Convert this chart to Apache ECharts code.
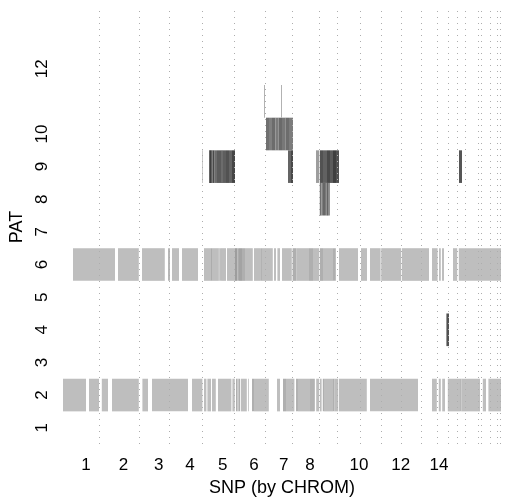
<!DOCTYPE html>
<html>
<head>
<meta charset="utf-8">
<script src="https://cdn.jsdelivr.net/npm/echarts@6/dist/echarts.min.js"></script>
<style>
  html, body { margin: 0; padding: 0; background: #fff; }
  #chart { width: 511px; height: 503px; }
</style>
</head>
<body>
<div id="chart"></div>
<script>
// SNP index space: SNPs ordered by chromosome, 0 .. N_SNP
const N_SNP = 2190;

// cumulative SNP index where each chromosome ends (dotted separators)
const CHROM_BREAKS = [180, 380, 530, 695, 855, 1010, 1146, 1282, 1372, 1484, 1589,
                      1690, 1789, 1869, 1927, 1972, 2010, 2077, 2092, 2134, 2170, 2185];

// chromosome label positions and texts shown on the SNP axis
const CHROM_LABEL_POS = [115, 302, 479, 635, 799, 955, 1104, 1235, 1480, 1689, 1880];
const CHROM_LABELS = ['1', '2', '3', '4', '5', '6', '7', '8', '10', '12', '14'];

// patient rows labelled on the PAT axis
const PAT_TICKS = [1, 2, 3, 4, 5, 6, 7, 8, 9, 10, 12];

// runs per patient: [startSNP, endSNP, score]  (score 0 = light, 1 = dark)
const pat2 = [
  [0, 115, 0], [130, 180, 0], [194, 225, 0], [245, 379, 0], [397, 425, 0],
  [445, 625, 0], [645, 697, 0], [705, 717, 0], [722, 740, 0], [745, 764, 0],
  [775, 842, 0], [847, 859, 0], [865, 872, 0.1], [872, 878, 0], [878, 885, 0.1],
  [889, 919, 0], [925, 929, 0], [945, 955, 0.1], [955, 1029, 0], [1070, 1085, 0],
  [1100, 1115, 0.1], [1115, 1157, 0], [1165, 1175, 0.08], [1175, 1235, 0],
  [1235, 1255, 0.08], [1255, 1260, 0], [1266, 1280, 0], [1284, 1293, 0],
  [1299, 1305, 0.1], [1305, 1350, 0], [1350, 1358, 0.1], [1358, 1376, 0],
  [1380, 1519, 0], [1535, 1775, 0], [1845, 1869, 0], [1879, 1889, 0],
  [1896, 1910, 0], [1924, 1985, 0], [1985, 1992, 0.05], [1992, 2085, 0],
  [2099, 2115, 0], [2127, 2190, 0]
];
const pat4 = [
  [1917, 1930, 0.72]
];
const pat6 = [
  [50, 260, 0], [275, 379, 0], [395, 509, 0], [525, 535, 0.05], [545, 580, 0],
  [595, 675, 0], [705, 740, 0], [740, 745, 0.12], [745, 778, 0], [778, 782, 0.12],
  [782, 790, 0], [790, 794, 0.12], [794, 815, 0], [820, 860, 0], [860, 872, 0.22],
  [872, 880, 0.12], [880, 895, 0.18], [895, 910, 0.1], [910, 949, 0],
  [955, 986, 0], [986, 995, 0.08], [995, 1049, 0], [1055, 1065, 0], [1072, 1085, 0],
  [1095, 1144, 0], [1148, 1168, 0.1], [1168, 1230, 0], [1230, 1250, 0.1],
  [1250, 1280, 0], [1284, 1300, 0.1], [1300, 1350, 0], [1350, 1360, 0.1],
  [1360, 1365, 0], [1380, 1475, 0], [1490, 1520, 0], [1535, 1588, 0],
  [1591, 1690, 0], [1694, 1830, 0], [1845, 1873, 0], [1880, 1889, 0],
  [1895, 1905, 0], [1950, 1971, 0], [1979, 2190, 0]
];
const pat8 = [
  [1284, 1292, 0.52], [1292, 1300, 0.42], [1300, 1310, 0.58], [1310, 1318, 0.46],
  [1318, 1326, 0.6], [1326, 1334, 0.48]
];
const pat9 = [
  [695, 699, 0], [731, 740, 0.85], [740, 748, 0.62], [748, 758, 0.78], [758, 770, 0.55],
  [770, 790, 0.66], [790, 800, 0.55], [800, 815, 0.64], [815, 830, 0.72],
  [830, 845, 0.6], [845, 860, 0.8], [1125, 1140, 0.6], [1140, 1150, 0.78],
  [1265, 1280, 0.22], [1284, 1300, 0.72], [1300, 1320, 0.62], [1320, 1335, 0.78],
  [1335, 1350, 0.66], [1350, 1365, 0.85], [1365, 1380, 0.72], [1980, 1995, 0.7]
];
const pat10 = [
  [1015, 1030, 0.52], [1030, 1045, 0.42], [1045, 1062, 0.55], [1062, 1078, 0.45],
  [1078, 1095, 0.56], [1095, 1112, 0.47], [1112, 1130, 0.54], [1130, 1150, 0.44]
];
const pat11 = [
  [1005, 1010, 0.08], [1090, 1095, 0.08]
];

const patientRuns = { 2: pat2, 4: pat4, 6: pat6, 8: pat8, 9: pat9, 10: pat10, 11: pat11 };

const cells = [];
Object.keys(patientRuns).forEach(function (p) {
  patientRuns[p].forEach(function (r) {
    cells.push([r[0], r[1], Number(p), r[2]]);
  });
});

function shade(score) {
  const g = Math.round(190 - score * 150);
  return 'rgb(' + g + ',' + g + ',' + g + ')';
}

const labelOf = {};
CHROM_LABEL_POS.forEach(function (v, i) { labelOf[v] = CHROM_LABELS[i]; });

const FONT = '"Liberation Sans", Arial, Helvetica, sans-serif';

const chart = echarts.init(document.getElementById('chart'), null, { renderer: 'canvas' });
chart.setOption({
  animation: false,
  backgroundColor: '#ffffff',
  grid: { left: 63, right: 10, top: 10, bottom: 59 },
  xAxis: {
    type: 'value',
    min: 0,
    max: N_SNP,
    name: 'SNP (by CHROM)',
    nameLocation: 'middle',
    nameGap: 33,
    nameTextStyle: { fontFamily: FONT, fontSize: 18, color: '#000' },
    axisLine: { show: false },
    axisTick: { show: false },
    splitLine: { show: false },
    axisLabel: {
      customValues: CHROM_LABEL_POS,
      formatter: function (v) { return labelOf[v] !== undefined ? labelOf[v] : ''; },
      margin: 13,
      fontFamily: FONT,
      fontSize: 17,
      color: '#000'
    }
  },
  yAxis: {
    type: 'value',
    min: 0.5,
    max: 13.8,
    name: 'PAT',
    nameLocation: 'middle',
    nameGap: 31,
    nameRotate: 90,
    nameTextStyle: { fontFamily: FONT, fontSize: 18, color: '#000' },
    axisLine: { show: false },
    axisTick: { show: false },
    splitLine: { show: false },
    axisLabel: {
      customValues: PAT_TICKS,
      rotate: 90,
      margin: 12,
      fontFamily: FONT,
      fontSize: 17,
      color: '#000'
    }
  },
  series: [
    {
      type: 'custom',
      coordinateSystem: 'cartesian2d',
      encode: { x: [0, 1], y: 2 },
      data: cells,
      renderItem: function (params, api) {
        const a = api.coord([api.value(0), api.value(2) + 0.5]);
        const b = api.coord([api.value(1), api.value(2) - 0.5]);
        return {
          type: 'rect',
          shape: { x: a[0], y: a[1], width: b[0] - a[0], height: b[1] - a[1] },
          style: { fill: shade(api.value(3)) }
        };
      },
      z: 2
    },
    {
      type: 'line',
      data: [],
      markLine: {
        silent: true,
        symbol: ['none', 'none'],
        label: { show: false },
        lineStyle: { type: [1, 5], color: '#adadad', width: 1 },
        data: CHROM_BREAKS.map(function (b) { return { xAxis: b }; })
      },
      z: 5
    }
  ]
});
</script>
</body>
</html>
